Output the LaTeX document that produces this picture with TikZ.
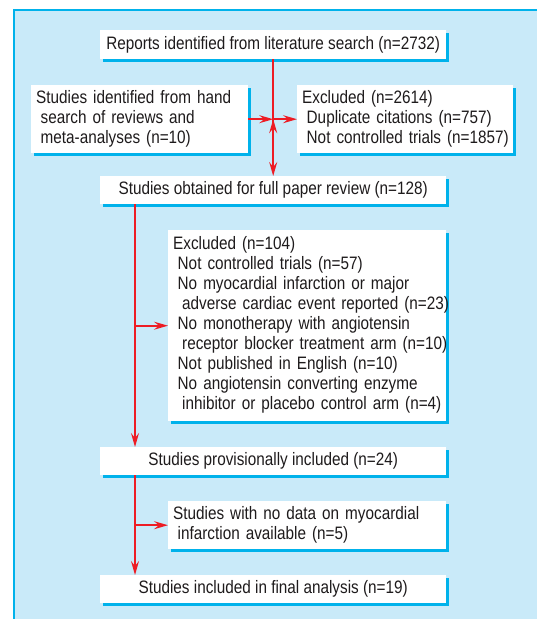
\documentclass[tikz,border=0pt]{standalone}
\usepackage{fontspec}
\setmainfont{Liberation Sans}[FakeStretch=0.85]
\usepackage{xcolor}
\usepackage{tikz}
\usetikzlibrary{calc, positioning, arrows.meta, shadows}
\definecolor{panelblue}{RGB}{201,234,249}
\definecolor{edgecyan}{RGB}{0,178,235}
\definecolor{flowred}{RGB}{237,28,36}
\definecolor{inkgray}{RGB}{30,27,28}
\newcommand{\boxlines}[1]{\begin{tabular}{@{}l@{}}#1\end{tabular}}
\newcommand{\subgap}{\hspace*{4.5pt}}

\begin{document}
\begin{tikzpicture}[x=1pt,y=-1pt,
                    flow box/.style={fill=white,anchor=north west,inner xsep=5pt,inner ysep=0pt,text=inkgray,
                      font=\fontsize{18}{20}\selectfont,
                      drop shadow={shadow xshift=3pt,shadow yshift=-3pt,fill=edgecyan,opacity=1}},
                    list box/.style={flow box,align=left},
                    flow arrow/.style={draw=flowred,line width=1.6pt,-{Stealth[length=14pt,width=8pt,inset=5pt]}}]

  \useasboundingbox (0,0) rectangle (537,619);
  \fill[panelblue] (14,10) rectangle (537,619);
  \draw[edgecyan,line width=1.3pt] (14,619) -- (14,10) -- (537,10);

  \node[flow box,minimum width=346pt,minimum height=29pt] (reports) at (100,30)
    {Reports identified from literature search (n=2732)};
  \node[list box,text width=207pt,minimum height=68pt] (hand) at (31,85)
    {\boxlines{Studies identified from hand\\ \subgap search of reviews and\\ \subgap meta-analyses (n=10)}};
  \node[list box,text width=206pt,minimum height=68pt] (excl1) at (297,85)
    {\boxlines{Excluded (n=2614)\\ \subgap Duplicate citations (n=757)\\ \subgap Not controlled trials (n=1857)}};
  \node[flow box,minimum width=346pt,minimum height=28pt] (full) at (100,176)
    {Studies obtained for full paper review (n=128)};
  \node[list box,text width=268pt,minimum height=191pt] (excl2) at (168,230)
    {\boxlines{Excluded (n=104)\\
      \subgap Not controlled trials (n=57)\\
      \subgap No myocardial infarction or major\\
      \subgap\subgap adverse cardiac event reported (n=23)\\
      \subgap No monotherapy with angiotensin\\
      \subgap\subgap receptor blocker treatment arm (n=10)\\
      \subgap Not published in English (n=10)\\
      \subgap No angiotensin converting enzyme\\
      \subgap\subgap inhibitor or placebo control arm (n=4)}};
  \node[flow box,minimum width=346pt,minimum height=28pt] (prov) at (100,447)
    {Studies provisionally included (n=24)};
  \node[list box,text width=268pt,minimum height=48pt] (nodata) at (168,501)
    {\boxlines{Studies with no data on myocardial\\ \subgap infarction available (n=5)}};
  \node[flow box,minimum width=346pt,minimum height=28pt] (final) at (100,575)
    {Studies included in final analysis (n=19)};

  \coordinate (split) at (reports.south |- hand.east);
  \coordinate (trunk1) at ($(full.south west)+(35,0)$);
  \coordinate (trunk2) at ($(prov.south west)+(35,0)$);

  \path[flow arrow]
    (reports) edge (full)
    (hand) edge (split)
    (split) edge (excl1);
  \draw[flow arrow] (trunk1) -- (trunk1 |- prov.north);
  \draw[flow arrow] (trunk1 |- excl2.west) -- (excl2.west);
  \draw[flow arrow] (trunk2) -- (trunk2 |- final.north);
  \draw[flow arrow] (trunk2 |- nodata.west) -- (nodata.west);
\end{tikzpicture}
\end{document}
